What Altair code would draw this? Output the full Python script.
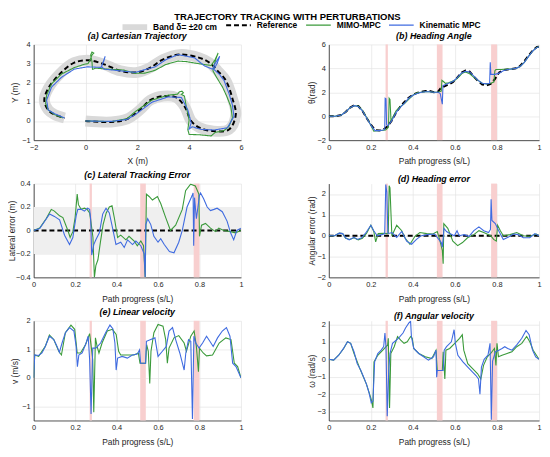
import altair as alt
import pandas as pd

FONT = "Liberation Sans"
GREEN = "#3a9a3a"
BLUE = "#3f6be0"
BLACK = "#000000"
BANDC = "#d9d9d9"
PINK = "#f8cfcf"
LIGHT = "#efefef"

SERIES = ["Band δ= ±20 cm", "Reference", "MIMO-MPC", "Kinematic MPC"]
PERT_START = [0.270, 0.514, 0.772]
PERT_END = [0.281, 0.541, 0.800]
S_TICKS = [0, 0.2, 0.4, 0.6, 0.8, 1]

# (a) Cartesian trajectory (x, y)
A_REF = [(0, 0), (1, -0.05), (1.6, 0.1), (2.1, 0.58), (2.5, 1.09), (3.0, 1.3), (3.5, 1.23), (3.83, 0.75),
         (4.08, 0.0), (4.4, -0.35), (4.9, -0.52), (5.54, -0.44), (5.8, 0.33), (5.67, 1.18), (5.42, 2.11),
         (5.1, 2.62), (4.78, 3.05), (4.4, 3.3), (3.64, 3.47), (3.0, 3.22), (2.5, 2.79), (2.0, 2.54),
         (1.35, 2.62), (0.72, 2.96), (0.15, 3.17), (-0.43, 3.05), (-1.0, 2.45), (-1.44, 1.69),
         (-1.59, 1.09), (-1.44, 0.58), (-1.19, 0.33), (-0.81, 0.16)]
A_MIMO = [(0, 0), (1, -0.03), (1.6, 0.12), (1.92, 0.49), (2.56, 1.09), (3.19, 1.35), (3.55, 1.4), (3.62, 1.52),
          (3.72, 1.56), (3.78, 1.47), (3.7, 1.4), (3.82, 1.3), (3.89, 0.75), (4.0, 0.05), (3.95, -0.45),
          (4.0, -0.7), (4.4, -0.72), (4.85, -0.78), (5.0, -0.6), (5.35, -0.5), (5.54, -0.27), (5.67, 0.16),
          (5.61, 0.75), (5.45, 1.3), (5.29, 1.77), (5.05, 2.3), (4.92, 2.62), (4.95, 2.85), (5.05, 3.3),
          (5.12, 3.55), (5.0, 3.2), (4.85, 2.9), (4.6, 2.95), (4.34, 3.0), (3.9, 3.1), (3.57, 3.13),
          (3.1, 2.95), (2.69, 2.65), (2.3, 2.5), (1.92, 2.49), (1.48, 2.66), (0.85, 2.71), (0.4, 2.76),
          (0.27, 2.7), (0.25, 3.1), (0.2, 3.45), (0.25, 3.6), (0.32, 3.55), (0.25, 3.45), (0.18, 3.2),
          (0.1, 3.0), (-0.05, 2.96), (-0.43, 2.79), (-0.93, 2.45), (-1.31, 1.94), (-1.5, 1.35),
          (-1.54, 0.92), (-1.44, 0.58), (-1.19, 0.33), (-0.87, 0.16)]
A_KIN = [(0, 0), (1, -0.02), (1.6, 0.08), (1.92, 0.33), (2.56, 0.98), (3.19, 1.26), (3.7, 1.23), (3.95, 0.58),
         (4.08, -0.1), (4.0, -0.42), (4.12, -0.3), (4.46, -0.44), (4.97, -0.47), (5.48, -0.35), (5.73, 0.24),
         (5.67, 0.84), (5.54, 1.43), (5.35, 2.11), (5.16, 2.45), (4.95, 2.7), (5.08, 3.0), (5.18, 3.38),
         (5.0, 3.0), (4.9, 2.71), (4.59, 2.88), (4.21, 3.3), (3.57, 3.47), (3.1, 3.2), (2.69, 2.83),
         (1.92, 2.54), (1.48, 2.6), (0.72, 2.71), (0.62, 2.85), (0.7, 3.1), (0.76, 3.38), (0.66, 3.0),
         (0.6, 2.8), (0.08, 2.83), (-0.43, 2.71), (-0.93, 2.28), (-1.31, 1.77), (-1.5, 1.09),
         (-1.44, 0.58), (-1.19, 0.38), (-0.81, 0.16)]

# (b) Heading angle (s, theta)
B_REF = [(0, 0), (0.03, 0), (0.06, 0.1), (0.08, 0.35), (0.1, 0.7), (0.12, 0.9), (0.14, 0.85), (0.16, 0.45),
         (0.18, -0.15), (0.2, -0.7), (0.22, -1.15), (0.24, -1.2), (0.26, -1.1), (0.28, -0.85), (0.3, -0.35),
         (0.32, 0.3), (0.34, 0.8), (0.36, 1.2), (0.38, 1.55), (0.4, 1.78), (0.42, 1.95), (0.44, 2.05),
         (0.46, 2.1), (0.48, 2.1), (0.5, 2.0), (0.52, 2.05), (0.53, 2.3), (0.55, 2.5), (0.57, 2.65),
         (0.59, 2.85), (0.61, 3.2), (0.63, 3.63), (0.65, 3.82), (0.67, 3.72), (0.69, 3.3), (0.71, 2.95),
         (0.73, 2.65), (0.75, 2.58), (0.77, 2.7), (0.79, 3.1), (0.81, 3.65), (0.83, 3.85), (0.85, 3.9),
         (0.87, 3.95), (0.89, 4.0), (0.91, 4.2), (0.93, 4.6), (0.95, 5.05), (0.97, 5.5), (0.99, 5.78),
         (1.0, 5.8)]
B_MIMO = [(0, 0), (0.03, 0), (0.06, 0.1), (0.08, 0.35), (0.1, 0.7), (0.12, 0.88), (0.14, 0.85), (0.16, 0.5),
          (0.18, -0.1), (0.2, -0.75), (0.214, -1.25), (0.23, -1.22), (0.25, -1.2), (0.27, -1.15), (0.28, -1.0),
          (0.284, -0.9), (0.287, 1.5), (0.291, 1.4), (0.296, -0.4), (0.31, 0.1), (0.32, 0.45), (0.34, 0.8),
          (0.36, 1.05), (0.38, 1.4), (0.4, 1.75), (0.42, 1.95), (0.44, 2.0), (0.46, 2.05), (0.48, 2.05),
          (0.5, 2.0), (0.52, 2.0), (0.535, 2.1), (0.538, 3.0), (0.545, 2.9), (0.555, 2.75), (0.57, 2.8),
          (0.6, 3.0), (0.62, 3.3), (0.635, 3.6), (0.65, 3.7), (0.67, 3.55), (0.69, 3.25), (0.71, 3.0),
          (0.73, 2.75), (0.75, 2.7), (0.77, 2.75), (0.785, 2.85), (0.79, 3.8), (0.795, 3.9), (0.82, 3.9),
          (0.85, 3.95), (0.87, 3.95), (0.89, 4.0), (0.91, 4.15), (0.93, 4.5), (0.95, 5.0), (0.97, 5.45),
          (0.99, 5.77), (1.0, 5.8)]
B_KIN = [(0, 0), (0.03, 0), (0.06, 0.1), (0.08, 0.35), (0.1, 0.7), (0.12, 0.88), (0.14, 0.82), (0.16, 0.45),
         (0.18, -0.15), (0.2, -0.75), (0.22, -1.2), (0.24, -1.2), (0.26, -1.15), (0.266, -1.1), (0.268, 1.5),
         (0.272, 1.45), (0.275, -0.7), (0.28, -0.8), (0.29, -0.6), (0.3, -0.35), (0.32, 0.3), (0.34, 0.75),
         (0.36, 1.1), (0.38, 1.5), (0.4, 1.75), (0.42, 1.9), (0.44, 2.0), (0.46, 2.05), (0.48, 2.05),
         (0.5, 2.0), (0.52, 2.0), (0.53, 1.9), (0.54, 1.0), (0.543, 2.55), (0.555, 2.65), (0.57, 2.75),
         (0.59, 2.9), (0.61, 3.2), (0.63, 3.6), (0.65, 3.75), (0.67, 3.7), (0.69, 3.35), (0.71, 3.0),
         (0.73, 2.75), (0.75, 2.7), (0.765, 2.75), (0.768, 4.5), (0.771, 3.5), (0.79, 3.5), (0.81, 3.6),
         (0.83, 3.8), (0.85, 3.9), (0.87, 3.95), (0.89, 4.0), (0.91, 4.15), (0.93, 4.5), (0.95, 5.0),
         (0.97, 5.45), (0.99, 5.75), (1.0, 5.8)]

# (c) Lateral tracking error (s, m)
C_MIMO = [(0, 0), (0.029, 0.02), (0.06, 0.1), (0.085, 0.18), (0.1, 0.165), (0.125, 0.125), (0.141, 0.11),
          (0.165, 0.0), (0.176, -0.06), (0.189, -0.01), (0.2, 0.11), (0.21, 0.31), (0.216, 0.22),
          (0.229, 0.18), (0.245, 0.19), (0.258, 0.18), (0.27, 0.15), (0.278, 0.05), (0.286, -0.06),
          (0.293, -0.4), (0.3, -0.3), (0.31, -0.25), (0.322, -0.1), (0.335, 0.05), (0.35, 0.15),
          (0.365, 0.2), (0.378, 0.21), (0.39, 0.1), (0.405, -0.06), (0.42, -0.04), (0.445, -0.08),
          (0.46, -0.05), (0.485, -0.09), (0.5, -0.13), (0.517, -0.09), (0.53, -0.13), (0.538, -0.4),
          (0.544, 0.31), (0.557, 0.29), (0.573, 0.26), (0.597, 0.29), (0.613, 0.23), (0.637, 0.11),
          (0.66, 0.0), (0.685, 0.045), (0.717, 0.18), (0.733, 0.34), (0.757, 0.395), (0.78, 0.38),
          (0.797, 0.31), (0.8, -0.05), (0.81, 0.045), (0.829, 0.06), (0.853, 0.02), (0.877, -0.01),
          (0.893, 0.02), (0.917, 0.0), (0.95, -0.01), (0.973, -0.02), (1.0, 0.0)]
C_KIN = [(0, 0), (0.029, 0.017), (0.05, 0.07), (0.077, 0.14), (0.1, 0.12), (0.125, 0.09), (0.149, -0.04),
         (0.173, -0.12), (0.189, -0.06), (0.205, 0.125), (0.213, 0.18), (0.229, 0.18), (0.245, 0.165),
         (0.26, 0.19), (0.27, 0.18), (0.275, 0.1), (0.28, -0.21), (0.29, -0.12), (0.3, -0.08),
         (0.317, -0.02), (0.333, 0.14), (0.349, 0.19), (0.365, 0.15), (0.381, 0.017), (0.397, -0.12),
         (0.42, -0.1), (0.437, -0.145), (0.453, -0.08), (0.477, -0.12), (0.493, -0.09), (0.517, -0.13),
         (0.533, -0.2), (0.538, -0.4), (0.541, 0.05), (0.55, 0.1), (0.565, 0.05), (0.58, -0.05),
         (0.6, -0.1), (0.613, -0.07), (0.63, -0.12), (0.655, -0.18), (0.677, -0.19), (0.7, -0.1),
         (0.717, 0.0), (0.74, 0.2), (0.765, 0.3), (0.769, 0.32), (0.772, -0.13), (0.776, 0.28),
         (0.785, 0.1), (0.8, 0.3), (0.805, 0.32), (0.82, 0.27), (0.837, 0.2), (0.853, 0.17), (0.87, 0.18),
         (0.885, 0.19), (0.91, 0.16), (0.933, 0.08), (0.95, -0.02), (0.965, -0.08), (0.98, 0.0),
         (1.0, 0.02)]

# (d) Heading error (s, rad)
D_MIMO = [(0, 0), (0.027, 0), (0.05, 0.12), (0.066, 0.1), (0.08, -0.12), (0.1, -0.18), (0.12, -0.1),
          (0.14, -0.2), (0.16, -0.12), (0.18, 0.12), (0.2, 0.5), (0.214, 0.2), (0.223, -0.3), (0.235, 0.1),
          (0.26, 0.12), (0.28, 0.1), (0.283, 0.12), (0.287, 2.4), (0.291, 2.3), (0.296, 1.0), (0.3, 0.0),
          (0.323, 0.5), (0.347, 0.24), (0.362, -0.1), (0.386, -0.41), (0.41, -0.03), (0.433, 0.15),
          (0.466, 0.1), (0.495, 0.08), (0.516, 0.2), (0.527, -0.18), (0.54, -0.7), (0.544, -1.35),
          (0.547, 0.58), (0.566, 0.35), (0.59, -0.26), (0.613, -0.48), (0.636, -0.33), (0.66, -0.1),
          (0.69, 0.05), (0.714, 0.24), (0.737, 0.15), (0.77, 0), (0.784, -0.18), (0.797, -0.26),
          (0.803, 0.5), (0.816, 0.24), (0.83, 0), (0.862, 0.05), (0.894, 0.15), (0.925, 0),
          (0.956, -0.03), (0.987, 0.08), (1.0, 0)]
D_KIN = [(0, 0), (0.027, 0), (0.05, 0.12), (0.066, 0.1), (0.08, -0.1), (0.097, -0.2), (0.12, -0.08),
         (0.136, -0.18), (0.156, -0.1), (0.175, 0.12), (0.2, 0.5), (0.214, 0.24), (0.23, 0), (0.253, 0.05),
         (0.266, 0.1), (0.271, 2.45), (0.276, 2.1), (0.281, 0.12), (0.29, 0.12), (0.3, 0.15),
         (0.323, -0.08), (0.347, 0.2), (0.37, -0.26), (0.394, -0.41), (0.417, -0.18), (0.44, 0),
         (0.47, 0.05), (0.503, 0.08), (0.525, -0.2), (0.535, -0.33), (0.54, -0.55), (0.548, 0.35),
         (0.56, 0.2), (0.573, 0.12), (0.597, 0), (0.61, 0.24), (0.62, 0), (0.644, 0.05), (0.667, -0.03),
         (0.69, 0.24), (0.714, 0.42), (0.737, 0.24), (0.76, 0.15), (0.769, 0.3), (0.772, 1.75),
         (0.776, 0.73), (0.792, 0.58), (0.808, 0.24), (0.83, -0.18), (0.855, -0.06), (0.878, 0.08),
         (0.9, 0.05), (0.925, -0.1), (0.956, -0.1), (0.98, 0.1), (1.0, 0)]

# (e) Linear velocity (s, m/s)
E_MIMO = [(0, 0), (0.005, 0.8), (0.024, 0.75), (0.056, 1.1), (0.076, 1.5), (0.097, 1.34), (0.121, 0.93),
          (0.134, 0.8), (0.153, 1.58), (0.18, 1.85), (0.198, 1.7), (0.21, 0.87), (0.226, 0.87),
          (0.25, 1.16), (0.27, 1.55), (0.276, 1.2), (0.285, 0.63), (0.29, -1.21), (0.298, 1.4),
          (0.306, 1.1), (0.315, 0.87), (0.33, 1.22), (0.355, 1.64), (0.38, 1.7), (0.398, 1.52),
          (0.41, 0.93), (0.42, 0.8), (0.452, 0.8), (0.484, 0.8), (0.505, 0.87), (0.513, 0.51),
          (0.54, 0.51), (0.545, 1.16), (0.553, 0.93), (0.56, -0.2), (0.566, 0.93), (0.58, 1.58),
          (0.6, 1.87), (0.624, 1.81), (0.637, 1.34), (0.645, 0.51), (0.653, 1.04), (0.677, 1.4),
          (0.7, 1.48), (0.726, 1.22), (0.737, 0.93), (0.758, 1.46), (0.774, 1.64), (0.785, 1.1),
          (0.795, 0.21), (0.8, 1.04), (0.818, 0.87), (0.834, 0.77), (0.863, 0.8), (0.895, 1.22),
          (0.927, 1.4), (0.952, 1.34), (0.968, 0.51), (0.984, 0.39), (1.0, 0)]
E_KIN = [(0, 0), (0.005, 0.8), (0.024, 0.78), (0.04, 0.87), (0.056, 1.1), (0.076, 1.46), (0.097, 1.34),
         (0.113, 1.1), (0.124, 0.89), (0.137, 1.22), (0.153, 1.58), (0.173, 1.76), (0.194, 1.64),
         (0.205, 1.1), (0.211, 0.39), (0.218, 0.8), (0.234, 0.87), (0.253, 1.22), (0.263, 1.46),
         (0.27, 0.63), (0.277, -1.27), (0.285, 1.04), (0.3, 1.04), (0.323, 1.22), (0.347, 1.58),
         (0.368, 1.85), (0.382, 1.72), (0.392, 1.22), (0.398, 0.27), (0.405, 0.69), (0.427, 0.75),
         (0.452, 0.69), (0.476, 0.8), (0.5, 0.83), (0.511, 0.98), (0.516, 0.51), (0.54, 0.51),
         (0.544, 1.28), (0.565, 1.34), (0.585, 1.4), (0.6, 0.75), (0.621, 0.93), (0.64, 1.1),
         (0.653, 1.64), (0.67, 1.76), (0.685, 1.34), (0.705, 0.87), (0.726, 0.27), (0.734, 0.87),
         (0.747, 1.34), (0.758, 1.28), (0.766, -1.45), (0.773, 1.46), (0.782, 1.22), (0.798, 1.04),
         (0.815, 1.22), (0.834, 1.46), (0.85, 1.28), (0.866, 1.1), (0.887, 1.4), (0.91, 1.64),
         (0.93, 1.76), (0.947, 1.46), (0.96, 0.51), (0.976, 0.39), (1.0, 0)]

# (f) Angular velocity (s, rad/s)
F_MIMO = [(0, 0), (0.023, -0.05), (0.047, 0.23), (0.07, 0.6), (0.089, 1.0), (0.104, 0.91), (0.12, 0.33),
          (0.148, -0.54), (0.179, -1.42), (0.202, -2.29), (0.21, -2.78), (0.215, -0.15), (0.233, 0.23),
          (0.257, 0.52), (0.28, 0.82), (0.283, 1.2), (0.289, -2.78), (0.295, 0.33), (0.311, 0.72),
          (0.327, 1.3), (0.342, 1.1), (0.358, 0.91), (0.373, 1.0), (0.389, 1.3), (0.397, 1.2),
          (0.404, 0.62), (0.428, 0.33), (0.459, 0.14), (0.49, 0.04), (0.51, 0.52), (0.516, -0.64),
          (0.54, -0.64), (0.544, 0.43), (0.552, -1.13), (0.557, 0.52), (0.575, 0.62), (0.599, 0.91),
          (0.622, 1.2), (0.635, 1.4), (0.642, 0.52), (0.661, -0.25), (0.684, -0.54), (0.708, -0.83),
          (0.723, -1.13), (0.736, -0.35), (0.754, 0.14), (0.77, 0.33), (0.788, 0.62), (0.795, -0.35),
          (0.8, 0.91), (0.807, 0.14), (0.824, 0.23), (0.848, 0.33), (0.871, 0.43), (0.894, 0.72),
          (0.918, 0.91), (0.941, 1.3), (0.956, 1.0), (0.972, 0.52), (1.0, 0)]
F_KIN = [(0, 0), (0.023, -0.05), (0.047, 0.23), (0.07, 0.62), (0.089, 1.0), (0.104, 0.91), (0.12, 0.43),
         (0.135, -0.25), (0.151, -0.6), (0.166, -1.03), (0.179, -1.42), (0.191, -1.9), (0.202, -2.49),
         (0.21, -2.39), (0.218, -0.15), (0.233, 0.33), (0.249, 0.52), (0.261, 0.72), (0.267, 1.5),
         (0.272, 0.72), (0.278, -3.26), (0.285, -0.64), (0.291, 0.33), (0.303, 0.91), (0.322, 1.1),
         (0.338, 1.3), (0.353, 1.5), (0.365, 1.79), (0.381, 2.08), (0.389, 2.17), (0.393, 1.3),
         (0.404, 0.62), (0.428, 0.33), (0.451, 0.14), (0.474, -0.05), (0.498, 0.14), (0.51, 0.52),
         (0.513, -1.03), (0.516, -0.64), (0.529, -0.64), (0.544, -0.64), (0.549, 0.52), (0.56, 0.72),
         (0.583, 1.0), (0.596, 1.69), (0.602, 0.91), (0.614, 0.23), (0.638, -0.15), (0.661, -0.45),
         (0.684, -0.74), (0.7, -0.93), (0.712, -1.13), (0.719, -2.0), (0.726, -0.45), (0.739, 0),
         (0.757, 0.23), (0.767, 0.91), (0.773, -3.46), (0.779, -0.1), (0.793, 0.43), (0.809, 0.52),
         (0.824, 0.62), (0.837, 0.72), (0.851, 0.62), (0.871, 0.52), (0.894, 0.82), (0.918, 1.2),
         (0.938, 1.65), (0.953, 1.4), (0.969, 0.52), (0.984, 0.14), (1.0, 0)]

ZERO_REF = [(0, 0), (1, 0)]
ERR_BAND = [(-0.2, 0.2)]


def xy_df(pairs, name):
    return pd.DataFrame({"x": [p[0] for p in pairs], "y": [p[1] for p in pairs],
                         "i": list(range(len(pairs))), "series": name})


def ts_df(pairs):
    return pd.DataFrame({"s": [p[0] for p in pairs], "v": [p[1] for p in pairs]})


pert_df = pd.DataFrame({"s0": PERT_START, "s1": PERT_END})


def ptitle(t, dy=0.5):
    return alt.TitleParams(t, font=FONT, fontSize=9, fontWeight="bold", fontStyle="italic",
                           anchor="middle", frame="group", offset=0, dy=dy, color="black")


def ts_panel(title, ytitle, ydom, yticks, ytx, mimo, kin, w, h, ref=None, band=False):
    xscale = alt.Scale(domain=[0, 1], nice=False, zero=False)
    xaxis = alt.Axis(values=S_TICKS, title="Path progress (s/L)", format="~g")
    yscale = alt.Scale(domain=ydom, nice=False, zero=False)
    yaxis = alt.Axis(values=yticks, title=ytitle, titleX=ytx, format="~g")

    def X(f):
        return alt.X(f"{f}:Q", scale=xscale, axis=xaxis)

    def Y(f):
        return alt.Y(f"{f}:Q", scale=yscale, axis=yaxis)

    layers = []
    if band:
        bdf = pd.DataFrame({"lo": [b[0] for b in ERR_BAND], "hi": [b[1] for b in ERR_BAND]})
        layers.append(alt.Chart(bdf).mark_rect(color=LIGHT).encode(y=Y("lo"), y2="hi:Q"))
    layers.append(alt.Chart(pert_df).mark_rect(color=PINK).encode(x=X("s0"), x2="s1:Q"))
    if ref is not None:
        layers.append(alt.Chart(ts_df(ref)).mark_line(color=BLACK, strokeWidth=2, strokeDash=[5, 3],
                                                        clip=True).encode(x=X("s"), y=Y("v")))
    layers.append(alt.Chart(ts_df(mimo)).mark_line(color=GREEN, strokeWidth=1.1, clip=True)
                  .encode(x=X("s"), y=Y("v")))
    layers.append(alt.Chart(ts_df(kin)).mark_line(color=BLUE, strokeWidth=1.1, clip=True)
                  .encode(x=X("s"), y=Y("v")))
    return alt.layer(*layers).properties(width=w, height=h, title=ptitle(title))


# ---- panel (a)
cscale = alt.Scale(domain=SERIES, range=[BANDC, BLACK, GREEN, BLUE])
wscale = alt.Scale(type="ordinal", domain=SERIES, range=[6, 2, 1.1, 1.1])
dscale = alt.Scale(domain=SERIES, range=[[1, 0], [5, 3], [1, 0], [1, 0]])
leg = alt.Legend(title=None, orient="none", legendX=87, legendY=-33, direction="horizontal", columns=4,
                 gridAlign="none", symbolType="stroke", symbolSize=625, labelFont=FONT, labelFontSize=8.5,
                 padding=0, labelFontWeight="bold", labelColor="black", labelOffset=3, columnPadding=5,
                 labelLimit=300)

ax = alt.X("x:Q", scale=alt.Scale(domain=[-2, 6], nice=False, zero=False),
           axis=alt.Axis(values=[-2, 0, 2, 4, 6], title="X (m)", format="~g"))
ay = alt.Y("y:Q", scale=alt.Scale(domain=[-1, 4], nice=False, zero=False),
           axis=alt.Axis(values=[-1, 0, 1, 2, 3, 4], title="Y (m)", titleX=-14.5, format="~g"))
enc = dict(color=alt.Color("series:N", scale=cscale, legend=leg),
           strokeDash=alt.StrokeDash("series:N", scale=dscale, legend=leg),
           strokeWidth=alt.StrokeWidth("series:N", scale=wscale, legend=leg))

ref_a = xy_df(A_REF, "Reference")
band_a = alt.Chart(ref_a).mark_line(color=BANDC, strokeWidth=11, interpolate="catmull-rom").encode(
    x=ax, y=ay, order="i:Q")
ref_line = alt.Chart(ref_a).mark_line(interpolate="catmull-rom").encode(x=ax, y=ay, order="i:Q", **enc)
mimo_line = alt.Chart(xy_df(A_MIMO, "MIMO-MPC")).mark_line().encode(x=ax, y=ay, order="i:Q", **enc)
kin_line = alt.Chart(xy_df(A_KIN, "Kinematic MPC")).mark_line().encode(x=ax, y=ay, order="i:Q", **enc)
panel_a = alt.layer(band_a, ref_line, mimo_line, kin_line).properties(
    width=210, height=97, title=ptitle("(a) Cartesian Trajectory", dy=8.75))

panel_b = ts_panel("(b) Heading Angle", "θ(rad)", [-2, 6], [-2, 0, 2, 4, 6], -12.5,
                   B_MIMO, B_KIN, 213, 97, ref=B_REF)
panel_c = ts_panel("(c) Lateral Tracking Error", "Lateral error (m)", [-0.4, 0.4],
                   [-0.4, -0.2, 0, 0.2, 0.4], -17, C_MIMO, C_KIN, 210, 95, ref=ZERO_REF, band=True)
panel_d = ts_panel("(d) Heading error", "Angular error (rad)", [-2, 2.5], [-2, -1, 0, 1, 2], -12.5,
                   D_MIMO, D_KIN, 213, 95, ref=ZERO_REF)
panel_e = ts_panel("(e) Linear velocity", "v (m/s)", [-1.5, 2], [-1, 0, 1, 2], -14.5,
                   E_MIMO, E_KIN, 210, 101)
panel_f = ts_panel("(f) Angular velocity", "ω (rad/s)", [-3.5, 2.2], [-3, -2, -1, 0, 1, 2], -12.5,
                   F_MIMO, F_KIN, 213, 101)

chart = alt.concat(
    panel_a, panel_b, panel_c, panel_d, panel_e, panel_f,
    columns=2, spacing={"row": 44, "column": 89}, bounds="flush", align="each",
    title=alt.TitleParams("TRAJECTORY TRACKING WITH PERTURBATIONS", font=FONT, fontSize=9.6,
                          fontWeight="bold", anchor="middle", offset=0, dy=9.4, dx=13, color="black"),
).properties(
    padding={"left": 0, "top": 0, "right": 0, "bottom": 0}
).configure_view(stroke=None).configure_axis(
    labelFont=FONT, labelFontSize=7.5, labelColor="#262626", labelPadding=3.5, labelFlush=False,
    titleFont=FONT, titleFontSize=8.5, titleFontWeight="normal", titleColor="#262626", titlePadding=6,
    domainColor="#262626", domainWidth=0.8, ticks=False, gridColor="#e3e3e3", gridWidth=0.7,
)

chart.save("out.html", embed_options={"renderer": "svg", "actions": False})
